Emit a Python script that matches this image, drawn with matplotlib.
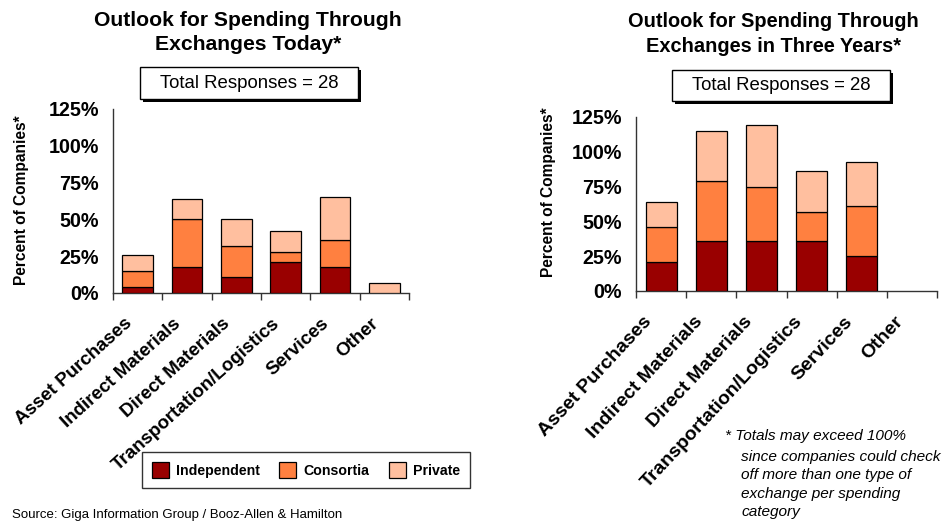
import matplotlib
matplotlib.use("Agg")
import matplotlib.pyplot as plt
from matplotlib.patches import Rectangle
from matplotlib.ticker import FuncFormatter, FixedLocator, NullFormatter
from matplotlib.transforms import ScaledTranslation
import numpy as np

plt.rcParams['font.family'] = ['Liberation Sans', 'DejaVu Sans']

categories = ["Asset Purchases", "Indirect Materials", "Direct Materials",
              "Transportation/Logistics", "Services", "Other"]
series_names = ["Independent", "Consortia", "Private"]
colors = ["#990000", "#FF8040", "#FFBF9F"]

# Stacked segment sizes, percent of companies
today_independent = [4, 18, 11, 21, 18, 0]
today_consortia = [11, 32, 21, 7, 18, 0]
today_private = [11, 14, 18, 14, 29, 7]

future_independent = [21, 36, 36, 36, 25, 0]
future_consortia = [25, 43, 39, 21, 36, 0]
future_private = [18, 36, 44, 29, 32, 0]

yticks = [0, 25, 50, 75, 100, 125]
total_responses = 28

W, H = 948, 522
fig = plt.figure(figsize=(W / 100, H / 100), dpi=100)


def px_box(x0, y0, x1, y1):
    """Figure-fraction rectangle from pixel edges (origin at top-left)."""
    return [x0 / W, 1 - y1 / H, (x1 - x0) / W, (y1 - y0) / H]


def draw_panel(ax, series, label_rotation, label_size, label_offset):
    x = np.arange(len(categories))
    bottom = np.zeros(len(categories))
    for vals, color, name in zip(series, colors, series_names):
        vals = np.asarray(vals, dtype=float)
        mask = vals > 0
        ax.bar(x[mask], vals[mask], bottom=bottom[mask], width=0.62,
               color=color, edgecolor="black", linewidth=0.9, label=name,
               zorder=3)
        bottom += vals
    ax.set_xlim(-0.5, len(categories) - 0.5)
    ax.set_ylim(0, 125)
    ax.set_yticks(yticks)
    ax.yaxis.set_major_formatter(FuncFormatter(lambda v, p: f"{v:.0f}%"))
    ax.tick_params(axis="y", length=0, pad=10, labelsize=14.2)
    for lab in ax.get_yticklabels():
        lab.set_fontweight("bold")

    # Category labels, slanted, hung just below the baseline
    ax.set_xticks(x)
    ax.xaxis.set_major_formatter(NullFormatter())
    ax.tick_params(axis="x", which="major", length=0)
    dx, dy = label_offset
    trans = ax.get_xaxis_transform() + ScaledTranslation(
        dx / 100, dy / 100, fig.dpi_scale_trans)
    for xi, name in zip(x, categories):
        ax.text(xi, 0, name, transform=trans, rotation=label_rotation,
                rotation_mode="anchor", ha="right", va="top",
                fontsize=label_size, fontweight="bold", clip_on=False)

    ax.xaxis.set_minor_locator(FixedLocator(np.arange(-0.5, len(categories), 1.0)))
    ax.tick_params(axis="x", which="minor", length=5, width=1.0,
                   direction="out", color="#333333")
    for s in ("top", "right"):
        ax.spines[s].set_visible(False)
    for s in ("left", "bottom"):
        ax.spines[s].set_linewidth(1.0)
        ax.spines[s].set_color("#333333")
    ax.set_ylabel("Percent of Companies*", fontsize=11.2, fontweight="bold")


ax1 = fig.add_axes(px_box(113, 109, 409, 293))
ax2 = fig.add_axes(px_box(636, 117, 937, 291))
draw_panel(ax1, [today_independent, today_consortia, today_private],
           42, 13.5, (-14, -22))
draw_panel(ax2, [future_independent, future_consortia, future_private],
           47, 14.0, (-18, -22))
ax1.yaxis.set_label_coords(-0.285, 0.505)
ax2.yaxis.set_label_coords(-0.265, 0.57)

# Titles
fig.text(248 / W, 1 - 11 / H, "Outlook for Spending Through\nExchanges Today*",
         ha="center", va="top", fontsize=15.2, fontweight="bold",
         linespacing=1.35)
fig.text(773 / W, 1 - 12 / H, "Outlook for Spending Through\nExchanges in Three Years*",
         ha="center", va="top", fontsize=14.4, fontweight="bold",
         linespacing=1.4)


def response_box(x0, y0, x1, y1):
    sh = 3
    fig.patches.append(Rectangle(((x0 + sh) / W, 1 - (y1 + sh) / H),
                                 (x1 - x0) / W, (y1 - y0) / H,
                                 transform=fig.transFigure, facecolor="black",
                                 edgecolor="none", zorder=5))
    fig.patches.append(Rectangle((x0 / W, 1 - y1 / H), (x1 - x0) / W,
                                 (y1 - y0) / H, transform=fig.transFigure,
                                 facecolor="white", edgecolor="black",
                                 linewidth=1.0, zorder=6))
    fig.text((x0 + x1) / 2 / W, 1 - (y0 + y1) / 2 / H,
             f"Total Responses = {total_responses}", ha="center",
             va="center", fontsize=13.4, zorder=7)


response_box(140, 67, 358, 99)
response_box(672, 70, 890, 101)

# Legend
handles, labels = ax1.get_legend_handles_labels()
leg = fig.legend(handles, labels, loc="center",
                 bbox_to_anchor=(306 / W, 1 - 470 / H), ncol=3,
                 frameon=True, fancybox=False, edgecolor="black",
                 prop={"weight": "bold", "size": 10.2}, handlelength=1.2,
                 handleheight=1.3, columnspacing=1.35, handletextpad=0.5,
                 borderpad=0.75)
leg.get_frame().set_linewidth(1.0)

# Footnote
fig.text(725 / W, 1 - 429 / H, "* Totals may exceed 100%", ha="left",
         va="top", fontsize=11.1, style="italic")
fig.text(741 / W, 1 - 450 / H,
         "since companies could check\noff more than one type of\nexchange per spending\ncategory",
         ha="left", va="top", fontsize=11.1, style="italic", linespacing=1.4)

# Source line
fig.text(12 / W, 1 - 509 / H,
         "Source: Giga Information Group / Booz-Allen & Hamilton",
         ha="left", va="top", fontsize=9.5)

fig.savefig("out.png", dpi=100)
